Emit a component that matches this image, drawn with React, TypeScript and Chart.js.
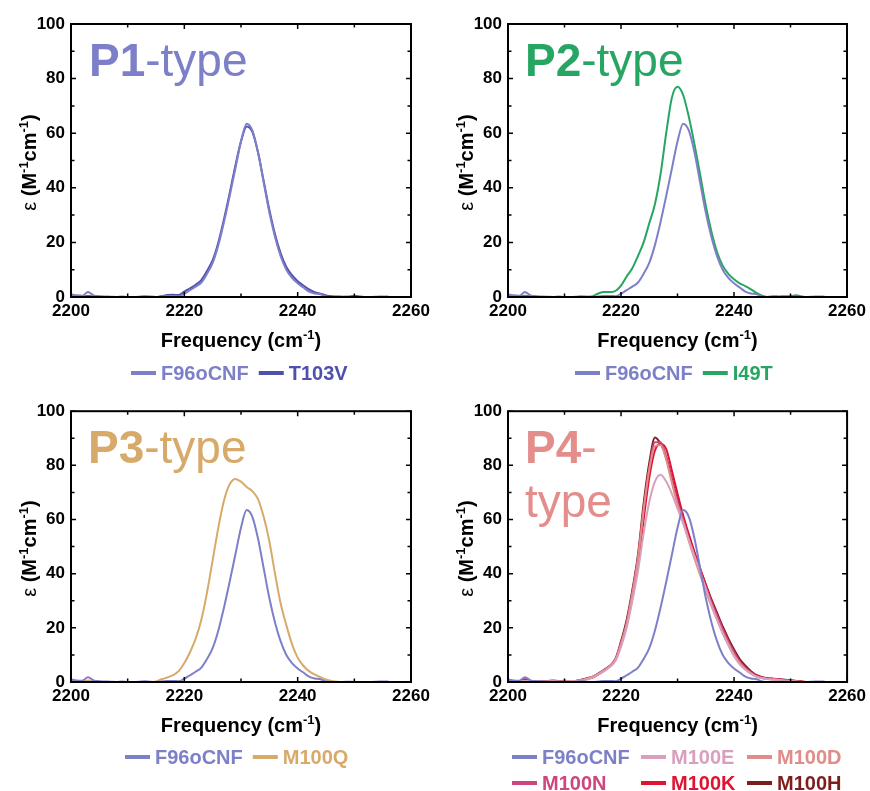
import React, { useEffect, useRef } from "react";
import { Chart, registerables } from "chart.js";

Chart.register(...registerables);

// ---------------- data ----------------
const FREQ = [
  2200, 2201, 2202, 2203, 2204, 2205, 2206, 2207, 2208, 2209,
  2210, 2211, 2212, 2213, 2214, 2215, 2216, 2217, 2218, 2219,
  2220, 2221, 2222, 2223, 2224, 2225, 2226, 2227, 2228, 2229,
  2230, 2231, 2232, 2233, 2234, 2235, 2236, 2237, 2238, 2239,
  2240, 2241, 2242, 2243, 2244, 2245, 2246, 2247, 2248, 2249,
  2250, 2251, 2252, 2253, 2254, 2255, 2256,
];

const F96oCNF = [
  1.0, 0.6, 0.5, 1.8, 0.6, 0.3, 0.2, 0.1, 0.0, 0.2,
  0.0, 0.0, 0.1, 0.3, 0.1, 0.0, 0.2, 0.4, 0.4, 0.3,
  1.2, 2.5, 3.8, 5.3, 8.5, 12.5, 19, 27.5, 37, 47,
  57, 63.5, 61, 53, 42, 31, 22, 15, 10, 7,
  5, 3.5, 2, 1.3, 1.0, 0.2, 0, 0, 0, 0.1,
  0, 0, 0, 0, 0.1, 0.2, 0.2,
];

const T103V = [
  0.3, 0.2, 0.2, 0.4, 0.2, 0.1, 0, 0, 0, 0,
  0, 0, 0, 0.1, 0.1, 0, 0.3, 0.7, 0.8, 0.7,
  2.0, 3.2, 4.5, 6.2, 9.5, 13.5, 20, 28.5, 38, 48,
  57, 62.5, 60.5, 53, 42.5, 32, 23, 16, 11, 8,
  5.8, 4.2, 2.8, 1.8, 1.2, 0.6, 0.3, 0.2, 0.1, 0.1,
  0.4, 0.2, 0, 0, 0, 0, 0,
];

const I49T = [
  0.3, 0.2, 0.2, 0.5, 0.3, 0.1, 0, 0, 0, 0,
  0, 0, 0, 0, 0.1, 0.3, 1.3, 1.8, 1.8, 2.2,
  4.2, 7.5, 10.5, 15, 20, 27, 34, 45, 60, 73,
  77, 74, 66, 56, 45, 33.5, 24, 16.5, 11.5, 8.5,
  6.5, 5, 4, 2.8, 1.5, 0.5, 0, 0.3, 0.2, 0.3,
  0.3, 0.6, 0.2, 0, 0, 0, 0,
];

const M100Q = [
  0.4, 0.3, 0.2, 0.6, 0.3, 0.1, 0, 0, 0, 0,
  0, 0, 0, 0, 0, 0.2, 1.0, 1.7, 2.5, 4,
  7, 11, 16, 23, 33, 45, 57, 67, 73, 75,
  74, 72, 70.5, 67.5, 61, 52, 40, 29, 21, 14,
  9, 6, 4, 2.8, 1.8, 0.9, 0.4, 0.1, 0, 0,
  0, 0, 0, 0, 0, 0, 0,
];

const M100E = [
  0.2, 0.2, 0.2, 0.4, 0.2, 0.1, 0.1, 0.2, 0.3, 0.2,
  0.2, 0.3, 0.4, 0.6, 1.0, 1.8, 2.8, 4.0, 5.5, 7.8,
  13, 20, 30, 41, 55, 66.5, 74, 76.5, 74, 69.5,
  64, 58.5, 52.5, 46.5, 40.5, 34.5, 28.5, 23, 18, 13.5,
  9.5, 6.5, 4.5, 3, 2, 1.4, 1.1, 0.9, 0.7, 0.5,
  0.3, 0.2, 0, 0, 0, 0, 0,
];

const M100D = [
  0.2, 0.2, 0.2, 0.4, 0.2, 0.1, 0.1, 0.2, 0.3, 0.2,
  0.2, 0.3, 0.4, 0.7, 1.2, 1.9, 3.0, 4.3, 5.8, 8.2,
  14, 21.5, 32.5, 45.5, 63.5, 78.5, 87, 87.5, 82, 73.5,
  65.5, 59, 52, 45.5, 39.5, 33.5, 28, 23, 18, 14,
  10, 7, 4.8, 3.2, 2, 1.4, 1.1, 0.9, 0.7, 0.5,
  0.3, 0.2, 0, 0, 0, 0, 0,
];

const M100N = [
  0.2, 0.2, 0.2, 0.5, 0.2, 0.1, 0.1, 0.2, 0.3, 0.2,
  0.2, 0.3, 0.4, 0.6, 1.2, 2.0, 3.0, 4.3, 5.8, 8.2,
  14.5, 22, 33, 46, 64, 79, 88.5, 88.5, 83, 74.5,
  66.5, 60, 53, 46.5, 40.5, 35, 29.5, 24.5, 19.5, 15,
  11, 7.5, 5.2, 3.5, 2.2, 1.5, 1.2, 1.0, 0.8, 0.6,
  0.4, 0.3, 0.1, 0, 0, 0, 0,
];

const M100K = [
  0.3, 0.2, 0.3, 1.0, 0.3, 0.1, 0.2, 0.4, 0.6, 0.3,
  0.5, 0.3, 0.4, 0.8, 1.2, 1.6, 2.8, 4.2, 5.8, 8.0,
  13.5, 21, 31, 43.5, 60, 75.5, 85.5, 88, 86, 78,
  69.5, 61.5, 54.5, 48, 42, 36, 30, 24.5, 19.5, 15,
  11, 7.8, 5.3, 3.5, 2.3, 1.6, 1.3, 1.1, 0.9, 0.7,
  0.5, 0.4, 0.2, 0, 0, 0, 0,
];

const M100H = [
  0.2, 0.2, 0.2, 0.4, 0.2, 0.1, 0.1, 0.2, 0.3, 0.2,
  0.2, 0.3, 0.4, 0.8, 1.4, 2.0, 3.2, 4.5, 6.0, 8.5,
  15, 23, 34, 47, 66, 81, 90.3, 88, 83, 75,
  67, 60.5, 54, 47.5, 41.5, 36, 30.5, 25.5, 20.5, 16,
  12, 8.5, 6, 4, 2.5, 1.8, 1.4, 1.2, 1.0, 0.8,
  0.6, 0.4, 0.1, 0, 0, 0, 0,
];

const X_MIN = 2200;
const X_MAX = 2260;
const Y_MIN = 0;
const Y_MAX = 100;
const X_TICK_MARKS = [2200, 2210, 2220, 2230, 2240, 2250, 2260];
const Y_TICK_MARKS = [0, 10, 20, 30, 40, 50, 60, 70, 80, 90, 100];

// ---------------- styles ----------------
const FONT = '"Liberation Sans", Arial, Helvetica, sans-serif';
const C_F96 = "#7d80c8";
const C_T103V = "#4f4fae";
const C_I49T = "#27a563";
const C_M100Q = "#d8aa69";
const C_M100E = "#d8a0be";
const C_M100D = "#e08c88";
const C_M100N = "#cd467d";
const C_M100K = "#e01432";
const C_M100H = "#7d1e1e";

type Part = { t: string; sup?: boolean; weight?: string };
type Series = { label: string; data: number[]; color: string };
type LegendRow = { y: number; x: number; cols?: number[]; items: { label: string; color: string }[] };
type PanelCfg = {
  left: number;
  top: number;
  width: number;
  height: number;
  area: { l: number; t: number; r: number; b: number };
  series: Series[];
  title: Part[][];
  titleColor: string;
  titleX: number;
  legend: LegendRow[];
};

function fontFor(p: Part, size: number) {
  const w = p.weight ?? "bold";
  const s = p.sup ? Math.round(size * 0.65) : size;
  return `${w} ${s}px ${FONT}`;
}

function drawRich(ctx: CanvasRenderingContext2D, parts: Part[], x: number, y: number, size: number, align: "left" | "center") {
  let w = 0;
  for (const p of parts) {
    ctx.font = fontFor(p, size);
    w += ctx.measureText(p.t).width;
  }
  let cx = align === "center" ? x - w / 2 : x;
  ctx.textAlign = "left";
  ctx.textBaseline = "alphabetic";
  for (const p of parts) {
    ctx.font = fontFor(p, size);
    ctx.fillText(p.t, cx, p.sup ? y - size * 0.42 : y);
    cx += ctx.measureText(p.t).width;
  }
}

const X_TITLE: Part[] = [{ t: "Frequency (cm" }, { t: "-1", sup: true }, { t: ")" }];
const Y_TITLE: Part[] = [
  { t: "ε", weight: "normal" },
  { t: " (M" },
  { t: "-1", sup: true },
  { t: "cm" },
  { t: "-1", sup: true },
  { t: ")" },
];

function makeDecor(cfg: PanelCfg) {
  return {
    id: "decor",
    afterDraw(chart: any) {
      const ctx: CanvasRenderingContext2D = chart.ctx;
      const a = chart.chartArea;
      const xs = chart.scales.x;
      const ys = chart.scales.y;
      ctx.save();
      // inward ticks on all four sides
      ctx.strokeStyle = "#000";
      ctx.lineWidth = 1.5;
      ctx.beginPath();
      for (const v of X_TICK_MARKS) {
        const px = xs.getPixelForValue(v);
        const len = v % 20 === 0 ? 5 : 3.5;
        ctx.moveTo(px, a.bottom);
        ctx.lineTo(px, a.bottom - len);
        ctx.moveTo(px, a.top);
        ctx.lineTo(px, a.top + len);
      }
      for (const v of Y_TICK_MARKS) {
        const py = ys.getPixelForValue(v);
        const len = v % 20 === 0 ? 5 : 3.5;
        ctx.moveTo(a.left, py);
        ctx.lineTo(a.left + len, py);
        ctx.moveTo(a.right, py);
        ctx.lineTo(a.right - len, py);
      }
      ctx.stroke();
      // frame
      ctx.lineWidth = 2;
      ctx.strokeRect(a.left, a.top, a.right - a.left, a.bottom - a.top);

      // panel title
      ctx.fillStyle = cfg.titleColor;
      cfg.title.forEach((line, i) => {
        drawRich(ctx, line, cfg.titleX, a.top + 52 + i * 54, 46, "left");
      });

      // axis titles
      ctx.fillStyle = "#000";
      drawRich(ctx, X_TITLE, (a.left + a.right) / 2, a.bottom + 50, 20, "center");
      ctx.save();
      ctx.translate(a.left - 35, (a.top + a.bottom) / 2 + 2);
      ctx.rotate(-Math.PI / 2);
      drawRich(ctx, Y_TITLE, 0, 0, 20, "center");
      ctx.restore();

      // legend
      ctx.font = `bold 20px ${FONT}`;
      ctx.textBaseline = "middle";
      ctx.textAlign = "left";
      for (const row of cfg.legend) {
        let x = row.x;
        row.items.forEach((it, i) => {
          if (row.cols) x = row.cols[i];
          ctx.fillStyle = it.color;
          ctx.fillRect(x, row.y - 2, 25, 4);
          ctx.fillText(it.label, x + 30, row.y + 1);
          x += 30 + ctx.measureText(it.label).width + 10;
        });
      }
      ctx.restore();
    },
  };
}

function Panel({ cfg }: { cfg: PanelCfg }) {
  const ref = useRef<HTMLCanvasElement>(null);
  useEffect(() => {
    const { area, width, height } = cfg;
    const tickFont = { family: FONT, size: 17, weight: "bold" as const };
    const chart = new Chart(ref.current as HTMLCanvasElement, {
      type: "line",
      data: {
        datasets: cfg.series.map((s) => ({
          label: s.label,
          data: FREQ.map((f, i) => ({ x: f, y: s.data[i] })),
          borderColor: s.color,
          backgroundColor: s.color,
          borderWidth: 2,
          pointRadius: 0,
          fill: false,
          cubicInterpolationMode: "monotone" as const,
        })),
      },
      options: {
        responsive: false,
        animation: false,
        layout: { padding: { left: 0, top: area.t, right: width - area.r, bottom: 0 } },
        plugins: {
          legend: { display: false },
          tooltip: { enabled: false },
          title: { display: false },
        },
        scales: {
          x: {
            type: "linear",
            min: X_MIN,
            max: X_MAX,
            afterFit: (s: any) => {
              s.height = height - area.b;
            },
            ticks: {
              stepSize: 20,
              font: tickFont,
              color: "#000",
              padding: 4,
              maxRotation: 0,
              autoSkip: false,
              callback: (v: any) => String(v),
            },
            grid: { display: false, drawTicks: false },
            border: { display: false },
          },
          y: {
            type: "linear",
            min: Y_MIN,
            max: Y_MAX,
            afterFit: (s: any) => {
              s.width = area.l;
            },
            ticks: {
              stepSize: 20,
              font: tickFont,
              color: "#000",
              padding: 6,
              callback: (v: any) => String(v),
            },
            grid: { display: false, drawTicks: false },
            border: { display: false },
          },
        },
      },
      plugins: [makeDecor(cfg)],
    } as any);
    return () => chart.destroy();
  }, [cfg]);
  return (
    <canvas
      ref={ref}
      width={cfg.width}
      height={cfg.height}
      style={{ position: "absolute", left: cfg.left, top: cfg.top, width: cfg.width, height: cfg.height }}
    />
  );
}

const PANELS: PanelCfg[] = [
  {
    left: 0,
    top: 0,
    width: 435,
    height: 395,
    area: { l: 71, t: 24, r: 411, b: 297 },
    series: [
      { label: "F96oCNF", data: F96oCNF, color: C_F96 },
      { label: "T103V", data: T103V, color: C_T103V },
    ],
    title: [[{ t: "P1" }, { t: "-type", weight: "normal" }]],
    titleColor: C_F96,
    titleX: 89,
    legend: [
      {
        y: 373,
        x: 131,
        items: [
          { label: "F96oCNF", color: C_F96 },
          { label: "T103V", color: C_T103V },
        ],
      },
    ],
  },
  {
    left: 435,
    top: 0,
    width: 435,
    height: 395,
    area: { l: 73, t: 24, r: 412, b: 297 },
    series: [
      { label: "F96oCNF", data: F96oCNF, color: C_F96 },
      { label: "I49T", data: I49T, color: C_I49T },
    ],
    title: [[{ t: "P2" }, { t: "-type", weight: "normal" }]],
    titleColor: C_I49T,
    titleX: 90,
    legend: [
      {
        y: 373,
        x: 140,
        items: [
          { label: "F96oCNF", color: C_F96 },
          { label: "I49T", color: C_I49T },
        ],
      },
    ],
  },
  {
    left: 0,
    top: 395,
    width: 435,
    height: 396,
    area: { l: 71, t: 14, r: 411, b: 287 },
    series: [
      { label: "F96oCNF", data: F96oCNF, color: C_F96 },
      { label: "M100Q", data: M100Q, color: C_M100Q },
    ],
    title: [[{ t: "P3" }, { t: "-type", weight: "normal" }]],
    titleColor: C_M100Q,
    titleX: 88,
    legend: [
      {
        y: 362,
        x: 125,
        items: [
          { label: "F96oCNF", color: C_F96 },
          { label: "M100Q", color: C_M100Q },
        ],
      },
    ],
  },
  {
    left: 435,
    top: 395,
    width: 435,
    height: 396,
    area: { l: 73, t: 14, r: 413, b: 287 },
    series: [
      { label: "F96oCNF", data: F96oCNF, color: C_F96 },
      { label: "M100E", data: M100E, color: C_M100E },
      { label: "M100D", data: M100D, color: C_M100D },
      { label: "M100N", data: M100N, color: C_M100N },
      { label: "M100K", data: M100K, color: C_M100K },
      { label: "M100H", data: M100H, color: C_M100H },
    ],
    title: [[{ t: "P4" }, { t: "-", weight: "normal" }], [{ t: "type", weight: "normal" }]],
    titleColor: "#e48e8c",
    titleX: 90,
    legend: [
      {
        y: 362,
        x: 77,
        cols: [77, 206, 312],
        items: [
          { label: "F96oCNF", color: C_F96 },
          { label: "M100E", color: C_M100E },
          { label: "M100D", color: C_M100D },
        ],
      },
      {
        y: 388,
        x: 77,
        cols: [77, 206, 312],
        items: [
          { label: "M100N", color: C_M100N },
          { label: "M100K", color: C_M100K },
          { label: "M100H", color: C_M100H },
        ],
      },
    ],
  },
];

export default function App() {
  return (
    <div style={{ position: "absolute", left: 0, top: 0, width: 870, height: 791, background: "#fff" }}>
      {PANELS.map((p, i) => (
        <Panel key={i} cfg={p} />
      ))}
    </div>
  );
}
